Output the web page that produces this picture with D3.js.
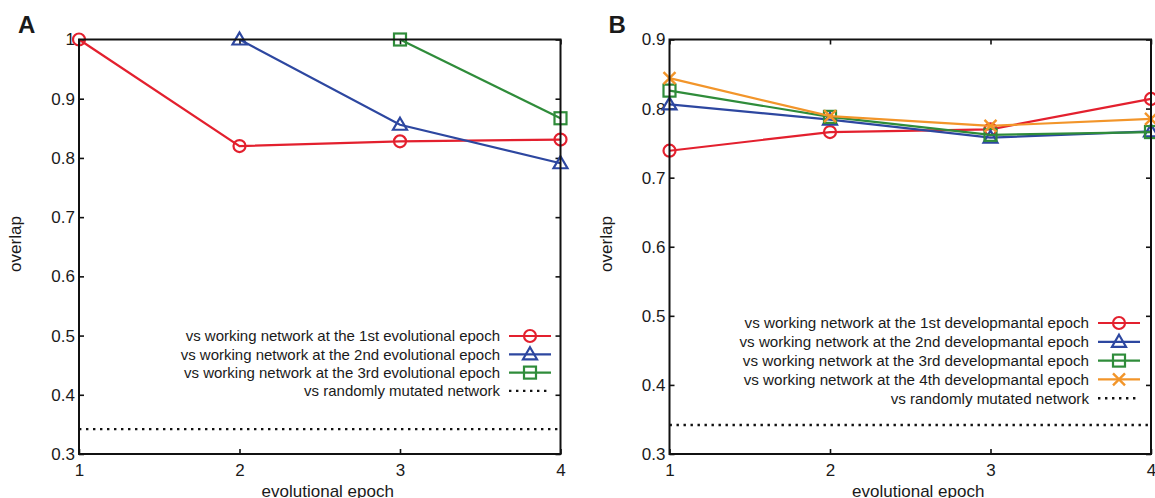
<!DOCTYPE html>
<html>
<head>
<meta charset="utf-8" />
<style>
*{margin:0;padding:0;}
body{background:#fff;}
svg text{font-family:"Liberation Sans", Arial, sans-serif;fill:#1a1a1a;}
</style>
</head>
<body>
<script src="https://cdn.jsdelivr.net/npm/d3@7"></script>
<script>
// data
var epochs = [1, 2, 3, 4];
var randomA = 0.342;
var randomB = 0.342;

// panel A: overlap vs working network at each evolutional epoch
var evo1 = [1.0, 0.820, 0.828, 0.831];
var evo2 = [null, 1.0, 0.856, 0.791];
var evo3 = [null, null, 1.0, 0.867];

// panel B: overlap vs working network at each developmantal epoch
var dev1 = [0.739, 0.766, 0.770, 0.814];
var dev2 = [0.806, 0.784, 0.758, 0.767];
var dev3 = [0.826, 0.788, 0.762, 0.766];
var dev4 = [0.844, 0.789, 0.775, 0.785];

var legendA = ["vs working network at the 1st evolutional epoch",
	"vs working network at the 2nd evolutional epoch",
	"vs working network at the 3rd evolutional epoch",
	"vs randomly mutated network"];
var legendB = ["vs working network at the 1st developmantal epoch",
	"vs working network at the 2nd developmantal epoch",
	"vs working network at the 3rd developmantal epoch",
	"vs working network at the 4th developmantal epoch",
	"vs randomly mutated network"];

var ticksA = [0.3, 0.4, 0.5, 0.6, 0.7, 0.8, 0.9, 1];
var ticksB = [0.3, 0.4, 0.5, 0.6, 0.7, 0.8, 0.9];

var colors = {red:"#e3202e", blue:"#2d47a0", green:"#2f8c3a", orange:"#f2952a"};

var svg = d3.select("body").append("svg").attr("width", 1155).attr("height", 498);

function marker(g, type, x, y, color)
{
	if(type == "circle")
		g.append("circle").attr("cx", x).attr("cy", y).attr("r", 6)
			.attr("fill", "none").attr("stroke", color).attr("stroke-width", 2.2);
	else if(type == "tri")
		g.append("path").attr("d", "M" + x + "," + (y - 7) + "L" + (x + 7) + "," + (y + 5) + "L" + (x - 7) + "," + (y + 5) + "Z")
			.attr("fill", "none").attr("stroke", color).attr("stroke-width", 2.2);
	else if(type == "square")
		g.append("rect").attr("x", x - 6).attr("y", y - 6).attr("width", 12).attr("height", 12)
			.attr("fill", "none").attr("stroke", color).attr("stroke-width", 2.2);
	else if(type == "cross")
		g.append("path").attr("d", "M" + (x - 6) + "," + (y - 6) + "L" + (x + 6) + "," + (y + 6) + "M" + (x + 6) + "," + (y - 6) + "L" + (x - 6) + "," + (y + 6))
			.attr("fill", "none").attr("stroke", color).attr("stroke-width", 2.4);
}

function panel(opt)
{
	var g = svg.append("g");
	var x = d3.scaleLinear().domain([1, 4]).range([opt.left, opt.right]);
	var y = d3.scaleLinear().domain(opt.ydomain).range([454, 39.5]);

	// inward ticks on all four sides
	g.append("g").attr("transform", "translate(" + opt.left + ",0)")
		.call(d3.axisLeft(y).tickValues(opt.ticks).tickSize(-5).tickPadding(4).tickFormat(d3.format("")))
		.call(function(a){a.select(".domain").remove();});
	g.append("g").attr("transform", "translate(" + opt.right + ",0)")
		.call(d3.axisRight(y).tickValues(opt.ticks).tickSize(-5).tickFormat(""))
		.call(function(a){a.select(".domain").remove();});
	g.append("g").attr("transform", "translate(0,454)")
		.call(d3.axisBottom(x).tickValues(epochs).tickSize(-5).tickPadding(10).tickFormat(d3.format("d")))
		.call(function(a){a.select(".domain").remove();});
	g.append("g").attr("transform", "translate(0,39.5)")
		.call(d3.axisTop(x).tickValues(epochs).tickSize(-5).tickFormat(""))
		.call(function(a){a.select(".domain").remove();});
	g.selectAll(".tick line").attr("stroke", "#111").attr("stroke-width", 1.6);
	g.selectAll(".tick text").attr("font-size", 17).attr("fill", "#1a1a1a")
		.attr("font-family", "Liberation Sans, Arial, sans-serif");

	// random baseline
	g.append("line").attr("x1", x(1)).attr("x2", x(4))
		.attr("y1", y(opt.random)).attr("y2", y(opt.random))
		.attr("stroke", "#111").attr("stroke-width", 2.4).attr("stroke-dasharray", "2.4,4.6");

	var line = d3.line().defined(function(d){return d != null;})
		.x(function(d, i){return x(epochs[i]);}).y(function(d){return y(d);});

	opt.series.forEach(function(s){
		g.append("path").attr("d", line(s.values)).attr("fill", "none")
			.attr("stroke", s.color).attr("stroke-width", 2.2);
		s.values.forEach(function(v, i){
			if(v != null) marker(g, s.marker, x(epochs[i]), y(v), s.color);
		});
	});

	// frame
	g.append("rect").attr("x", opt.left).attr("y", 39.5)
		.attr("width", opt.right - opt.left).attr("height", 454 - 39.5)
		.attr("fill", "none").attr("stroke", "#111").attr("stroke-width", 2);

	// legend
	var items = opt.series.concat([{color:"#111", marker:"dots"}]);
	items.forEach(function(s, i){
		var ly = opt.legendY + i * opt.legendStep;
		g.append("text").attr("x", opt.legendX).attr("y", ly).attr("dy", "0.35em")
			.attr("text-anchor", "end").attr("font-size", opt.legendFont).text(opt.legend[i]);
		var x0 = opt.legendX + 9, x1 = x0 + 42;
		if(s.marker == "dots")
			g.append("line").attr("x1", x0).attr("x2", x1).attr("y1", ly).attr("y2", ly)
				.attr("stroke", "#111").attr("stroke-width", 2.4).attr("stroke-dasharray", "2.4,4.6");
		else
		{
			g.append("line").attr("x1", x0).attr("x2", x1).attr("y1", ly).attr("y2", ly)
				.attr("stroke", s.color).attr("stroke-width", 2.2);
			marker(g, s.marker, (x0 + x1) / 2, ly, s.color);
		}
	});

	// labels
	g.append("text").attr("transform", "translate(" + (opt.left - 58) + ",244) rotate(-90)")
		.attr("text-anchor", "middle").attr("font-size", 17).text("overlap");
	g.append("text").attr("x", (opt.left + opt.right) / 2 + 8).attr("y", 497)
		.attr("text-anchor", "middle").attr("font-size", 17).text("evolutional epoch");
	g.append("text").attr("x", opt.left - 61).attr("y", 33)
		.attr("font-size", 24).attr("font-weight", "bold").attr("fill", "#000").text(opt.tag);
}

panel({
	tag:"A", left:79, right:560.5, ydomain:[0.3, 1], ticks:ticksA, random:randomA,
	series:[
		{values:evo1, color:colors.red, marker:"circle"},
		{values:evo2, color:colors.blue, marker:"tri"},
		{values:evo3, color:colors.green, marker:"square"}
	],
	legend:legendA, legendX:500, legendY:336, legendStep:18.3, legendFont:15
});

panel({
	tag:"B", left:669.5, right:1151, ydomain:[0.3, 0.9], ticks:ticksB, random:randomB,
	series:[
		{values:dev1, color:colors.red, marker:"circle"},
		{values:dev2, color:colors.blue, marker:"tri"},
		{values:dev3, color:colors.green, marker:"square"},
		{values:dev4, color:colors.orange, marker:"cross"}
	],
	legend:legendB, legendX:1089, legendY:323, legendStep:18.8, legendFont:15.2
});
</script>
</body>
</html>
